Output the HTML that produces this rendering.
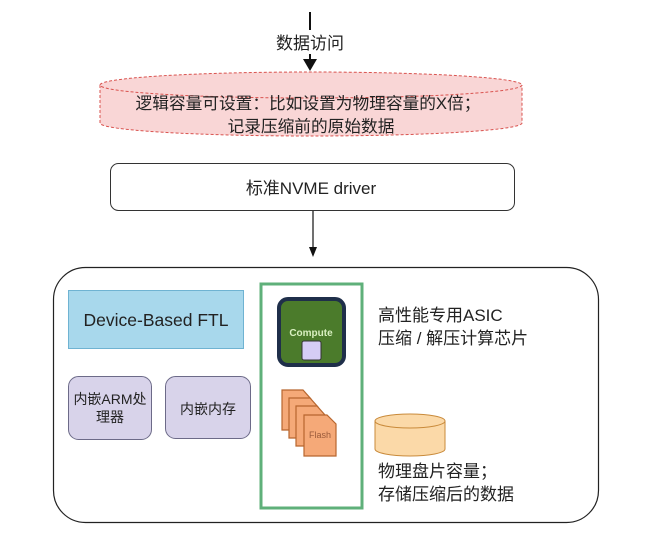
<!DOCTYPE html>
<html><head><meta charset="utf-8"><style>
html,body{margin:0;padding:0;background:#fff;}
svg{display:block;}
text{font-family:"Liberation Sans","Noto Sans CJK SC",sans-serif;fill:#222;}
</style></head><body>
<svg width="650" height="534" viewBox="0 0 650 534" xmlns="http://www.w3.org/2000/svg">
<line x1="310" y1="12" x2="310" y2="30" stroke="#111" stroke-width="2"/>
<text x="310" y="49" font-size="17" text-anchor="middle">数据访问</text>
<line x1="310" y1="54" x2="310" y2="62" stroke="#111" stroke-width="2"/>
<path d="M303,59 L317,59 L310,71 Z" fill="#111"/>
<path d="M100,85 L100,123 A211,13 0 0 0 522,123 L522,85" fill="#f9d6d6" stroke="#d9534f" stroke-width="1" stroke-dasharray="3,2"/>
<ellipse cx="311" cy="85" rx="211" ry="13" fill="#f9d6d6" stroke="#d9534f" stroke-width="1" stroke-dasharray="3,2"/>
<text x="308" y="109" font-size="16.7" text-anchor="middle">逻辑容量可设置：比如设置为物理容量的X倍；</text>
<text x="311" y="132" font-size="16.7" text-anchor="middle">记录压缩前的原始数据</text>
<rect x="110.5" y="163.5" width="404" height="47" rx="8" fill="#fff" stroke="#333"/>
<text x="311" y="194" font-size="17" text-anchor="middle">标准NVME driver</text>
<line x1="313" y1="211" x2="313" y2="248" stroke="#111" stroke-width="1.2"/>
<path d="M309,247 L317,247 L313,257 Z" fill="#111"/>
<rect x="53.5" y="267.5" width="545" height="255" rx="32" fill="#fff" stroke="#222" stroke-width="1.2"/>
<rect x="68.5" y="290.5" width="175" height="58" fill="#a8d8ec" stroke="#6fb3d2"/>
<text x="156" y="326" font-size="17.5" text-anchor="middle">Device-Based FTL</text>
<rect x="68.5" y="376.5" width="83" height="63" rx="10" fill="#d8d3ea" stroke="#6c6a88"/>
<text x="110" y="404" font-size="14" text-anchor="middle">内嵌ARM处</text>
<text x="110" y="422" font-size="14" text-anchor="middle">理器</text>
<rect x="165.5" y="376.5" width="85" height="62" rx="10" fill="#d8d3ea" stroke="#6c6a88"/>
<text x="208" y="414" font-size="14" text-anchor="middle">内嵌内存</text>
<rect x="261" y="284" width="101" height="224" fill="#fff" stroke="#5fb07a" stroke-width="3"/>
<rect x="279" y="299" width="65" height="66" rx="9" fill="#4b7b2b" stroke="#1f2f4a" stroke-width="4"/>
<text x="311" y="336" font-size="10" font-weight="bold" text-anchor="middle" style="fill:#d8f0c0">Compute</text>
<rect x="302" y="341" width="19" height="19" rx="2" fill="#d5cdf5" stroke="#333" stroke-width="1"/>
<g fill="#f5a978" stroke="#b8662e" stroke-width="1.2">
<path d="M282,390 L303,390 L311,399 L311,430 L282,430 Z"/>
<path d="M289,398 L310,398 L318,407 L318,438 L289,438 Z"/>
<path d="M296,406 L317,406 L325,415 L325,446 L296,446 Z"/>
<path d="M304,415 L327,415 L336,424 L336,456 L304,456 Z"/>
</g>
<text x="320" y="438" font-size="9" text-anchor="middle" style="fill:#9a5a3a">Flash</text>
<text x="378" y="321" font-size="17">高性能专用ASIC</text>
<text x="378" y="344" font-size="17">压缩 / 解压计算芯片</text>
<path d="M375,421 L375,449 A35,7 0 0 0 445,449 L445,421" fill="#fbd9a8" stroke="#c98a3a"/>
<ellipse cx="410" cy="421" rx="35" ry="7" fill="#fbd9a8" stroke="#c98a3a"/>
<text x="378" y="477" font-size="17">物理盘片容量；</text>
<text x="378" y="500" font-size="17">存储压缩后的数据</text>
</svg>
</body></html>
